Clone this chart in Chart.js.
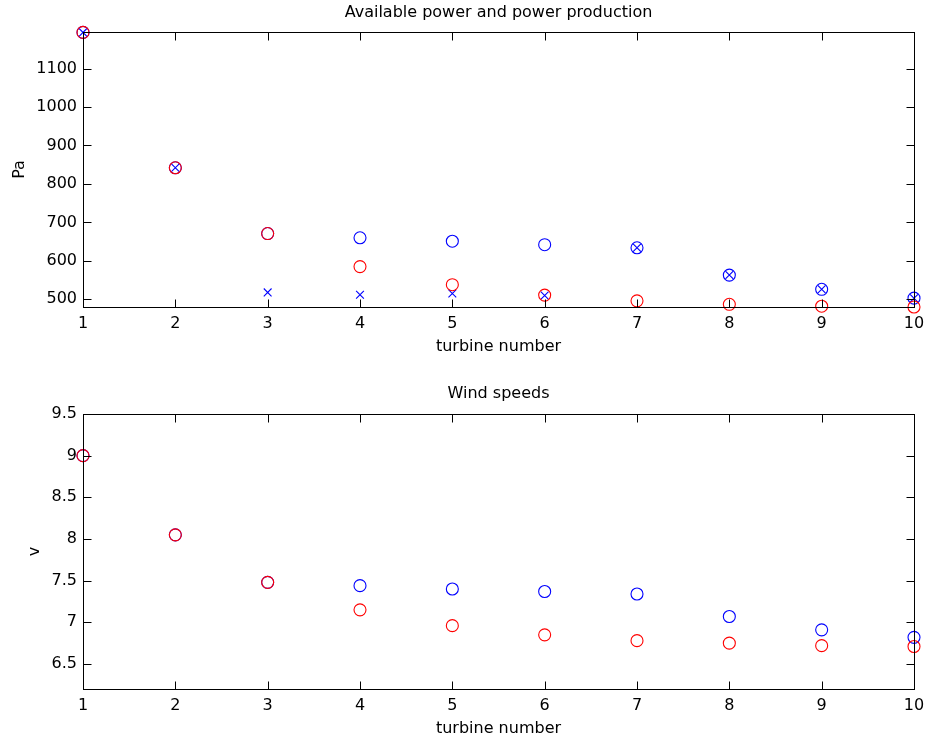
<!DOCTYPE html>
<html>
<head>
<meta charset="utf-8">
<script src="https://cdn.jsdelivr.net/npm/chart.js@4.4.0/dist/chart.umd.min.js"></script>
<style>
  html, body { margin: 0; padding: 0; background: #fff; }
  #wrap { position: relative; width: 928px; height: 742px; }
  canvas { position: absolute; left: 0; }
</style>
</head>
<body>
<div id="wrap">
  <canvas id="power" width="928" height="371" style="top:0"></canvas>
  <canvas id="wind" width="928" height="371" style="top:371px"></canvas>
</div>
<script>
// data
const turbines = [1, 2, 3, 4, 5, 6, 7, 8, 9, 10];
const powerAvailable = [1194, 842, 671, 660, 651, 642, 634, 563, 526, 503];   // blue o
const powerProduced = [1194, 842, 671, 585, 538, 511, 496, 487, 482, 480];    // red o
const powerCross = [1194, 842, 518, 512, 515, 510, 634, 563, 526, 503];       // blue x
const windFree = [9.0, 8.05, 7.48, 7.44, 7.40, 7.37, 7.34, 7.07, 6.91, 6.82]; // blue o
const windWake = [9.0, 8.05, 7.48, 7.15, 6.96, 6.85, 6.78, 6.75, 6.72, 6.71]; // red o
const xTicks = [1, 2, 3, 4, 5, 6, 7, 8, 9, 10];
const powerTicks = [500, 600, 700, 800, 900, 1000, 1100];
const windTicks = [6.5, 7, 7.5, 8, 8.5, 9, 9.5];

const FONT = "'DejaVu Sans', sans-serif";
const BLUE = "#0000ff";
const RED = "#ff0000";

const pts = (ys) => turbines.map((t, i) => ({ x: t, y: ys[i] }));

// matlab style box with inward ticks + title
const frame = {
  id: "frame",
  afterDatasetsDraw(chart, args, opts) {
    const { ctx, chartArea: a, scales } = chart;
    const L = Math.round(a.left) + 0.5, R = Math.round(a.right) + 0.5;
    const T = Math.round(a.top) + 0.5, B = Math.round(a.bottom) + 0.5;
    const tl = 8;
    ctx.save();
    ctx.strokeStyle = "#000";
    ctx.lineWidth = 1;
    ctx.beginPath();
    scales.x.ticks.forEach((t) => {
      const px = Math.round(scales.x.getPixelForValue(t.value)) + 0.5;
      ctx.moveTo(px, B); ctx.lineTo(px, B - tl);
      ctx.moveTo(px, T); ctx.lineTo(px, T + tl);
    });
    scales.y.ticks.forEach((t) => {
      const py = Math.round(scales.y.getPixelForValue(t.value)) + 0.5;
      ctx.moveTo(L, py); ctx.lineTo(L + tl, py);
      ctx.moveTo(R, py); ctx.lineTo(R - tl, py);
    });
    ctx.stroke();
    ctx.strokeRect(L, T, R - L, B - T);
    ctx.fillStyle = "#000";
    ctx.font = "16px " + FONT;
    ctx.textAlign = "center";
    ctx.textBaseline = "middle";
    ctx.fillText(opts.text, (a.left + a.right) / 2, opts.y);
    ctx.restore();
  },
};

function makeChart(id, datasets, yMin, yMax, yTicks, yLabel, yTitlePad, padTop, padBottom, title, titleY) {
  const tickFont = { family: FONT, size: 16 };
  return new Chart(document.getElementById(id), {
    type: "scatter",
    data: { datasets },
    options: {
      responsive: false,
      animation: false,
      layout: { padding: { top: padTop, bottom: padBottom, left: 0, right: 14 } },
      plugins: {
        legend: { display: false },
        tooltip: { enabled: false },
        frame: { text: title, y: titleY },
      },
      scales: {
        x: {
          type: "linear",
          min: 1,
          max: 10,
          afterBuildTicks: (s) => { s.ticks = xTicks.map((v) => ({ value: v })); },
          afterFit: (s) => { s.height = 49; s.paddingLeft = 0; s.paddingRight = 0; },
          grid: { display: false, drawTicks: false },
          border: { display: false },
          ticks: { font: tickFont, color: "#000", padding: 7, autoSkip: false, maxRotation: 0, callback: (v) => String(v) },
          title: { display: true, text: "turbine number", font: tickFont, color: "#000", padding: { top: 0, bottom: 0 } },
        },
        y: {
          min: yMin,
          max: yMax,
          afterBuildTicks: (s) => { s.ticks = yTicks.map((v) => ({ value: v })); },
          afterFit: (s) => { s.width = 83; s.paddingTop = 0; s.paddingBottom = 0; },
          grid: { display: false, drawTicks: false },
          border: { display: false },
          ticks: { font: tickFont, color: "#000", padding: 6, callback: (v) => String(v) },
          title: { display: true, text: yLabel, font: tickFont, color: "#000", padding: { top: yTitlePad, bottom: 0 } },
        },
      },
    },
    plugins: [frame],
  });
}

const circle = (color) => ({
  pointStyle: "circle", pointRadius: 6, pointBorderWidth: 1.1,
  pointBorderColor: color, pointBackgroundColor: "rgba(0,0,0,0)", clip: false,
});

makeChart("power", [
  { label: "produced", data: pts(powerProduced), ...circle(RED) },
  { label: "cross", data: pts(powerCross), pointStyle: "crossRot", pointRadius: 5.5, pointBorderWidth: 1.1, pointBorderColor: BLUE, clip: false },
  { label: "available", data: pts(powerAvailable), ...circle(BLUE) },
], 480, 1195, powerTicks, "Pa", 10, 32, 15, "Available power and power production", 13);

makeChart("wind", [
  { label: "wake", data: pts(windWake), ...circle(RED) },
  { label: "free", data: pts(windFree), ...circle(BLUE) },
], 6.2, 9.5, windTicks, "v", 25, 43, 4, "Wind speeds", 23);
</script>
</body>
</html>
